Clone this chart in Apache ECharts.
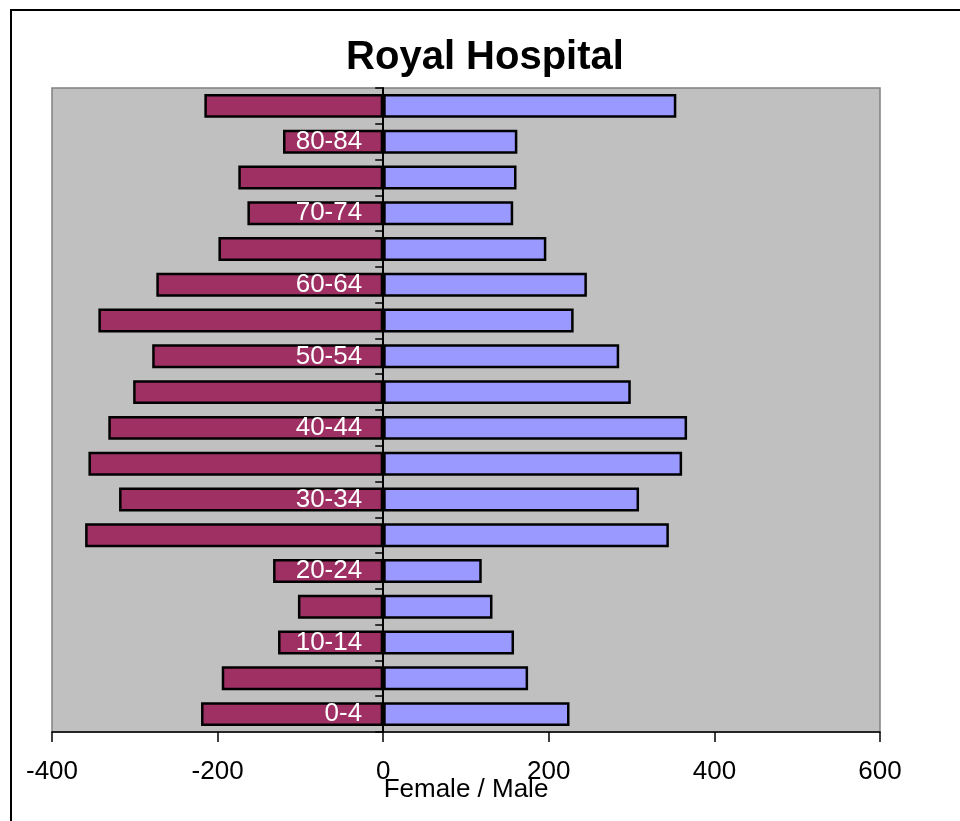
<!DOCTYPE html>
<html>
<head>
<meta charset="utf-8">
<style>html,body{margin:0;padding:0;background:#fff;}#chart{width:960px;height:821px;}</style>
<script src="https://cdn.jsdelivr.net/npm/echarts@6/dist/echarts.min.js"></script>
</head>
<body>
<div id="chart"></div>
<script>
var categories = ['0-4','5-9','10-14','15-19','20-24','25-29','30-34','35-39','40-44','45-49','50-54','55-59','60-64','65-69','70-74','75-79','80-84','85+'];
var female = [-220,-195,-127,-103,-133,-360,-319,-356,-332,-302,-279,-344,-274,-199,-164,-175,-121,-216];
var male = [225,175,158,132,119,345,309,361,367,299,285,230,246,197,157,161,162,354];
var xTicks = {min: -400, max: 600, interval: 200};
var FONT = "'Liberation Sans', Arial, sans-serif";

var chart = echarts.init(document.getElementById('chart'));
chart.setOption({
  animation: false,
  backgroundColor: '#ffffff',
  graphic: [
    {type: 'rect', shape: {x: 11, y: 10, width: 1000, height: 1000}, style: {fill: 'none', stroke: '#000', lineWidth: 2}, z: 100},
    {type: 'text', x: 485, y: 58, style: {text: 'Royal Hospital', font: 'bold 40px ' + FONT, fill: '#000', textAlign: 'center', textVerticalAlign: 'middle'}, z: 100}
  ],
  grid: {
    left: 52, right: 80, top: 88, bottom: 89,
    show: true, backgroundColor: '#C0C0C0', borderColor: '#808080', borderWidth: 1.5,
    containLabel: false, outerBoundsMode: 'none'
  },
  xAxis: {
    type: 'value',
    min: xTicks.min, max: xTicks.max, interval: xTicks.interval,
    name: 'Female / Male', nameLocation: 'middle', nameGap: 58, nameMoveOverlap: false,
    nameTextStyle: {fontFamily: FONT, fontSize: 26, color: '#000', verticalAlign: 'middle'},
    axisLine: {show: true, lineStyle: {color: '#000', width: 1.5}},
    axisTick: {show: true, inside: false, length: 10, lineStyle: {color: '#000', width: 1.5}},
    axisLabel: {fontFamily: FONT, fontSize: 26, color: '#000', margin: 27},
    splitLine: {show: false}
  },
  yAxis: {
    type: 'category',
    data: categories,
    z: 10,
    axisLine: {show: true, onZero: true, lineStyle: {color: '#000', width: 2}},
    axisTick: {show: true, inside: false, length: 8, interval: 0, alignWithLabel: false, lineStyle: {color: '#000', width: 1.5}},
    axisLabel: {show: false},
    splitLine: {show: false}
  },
  series: [
    {
      name: 'Female', type: 'bar', data: female,
      barCategoryGap: '33%', barGap: '-100%',
      itemStyle: {color: '#9E3064', borderColor: '#000', borderWidth: 2.5},
      label: {
        show: true, position: 'insideRight', distance: 21,
        fontFamily: FONT, fontSize: 26, color: '#ffffff',
        formatter: function (p) { return p.dataIndex % 2 === 0 ? categories[p.dataIndex] : ''; }
      }
    },
    {
      name: 'Male', type: 'bar', data: male,
      barCategoryGap: '33%', barGap: '-100%',
      itemStyle: {color: '#9999FF', borderColor: '#000', borderWidth: 2.5}
    }
  ]
});
</script>
</body>
</html>
